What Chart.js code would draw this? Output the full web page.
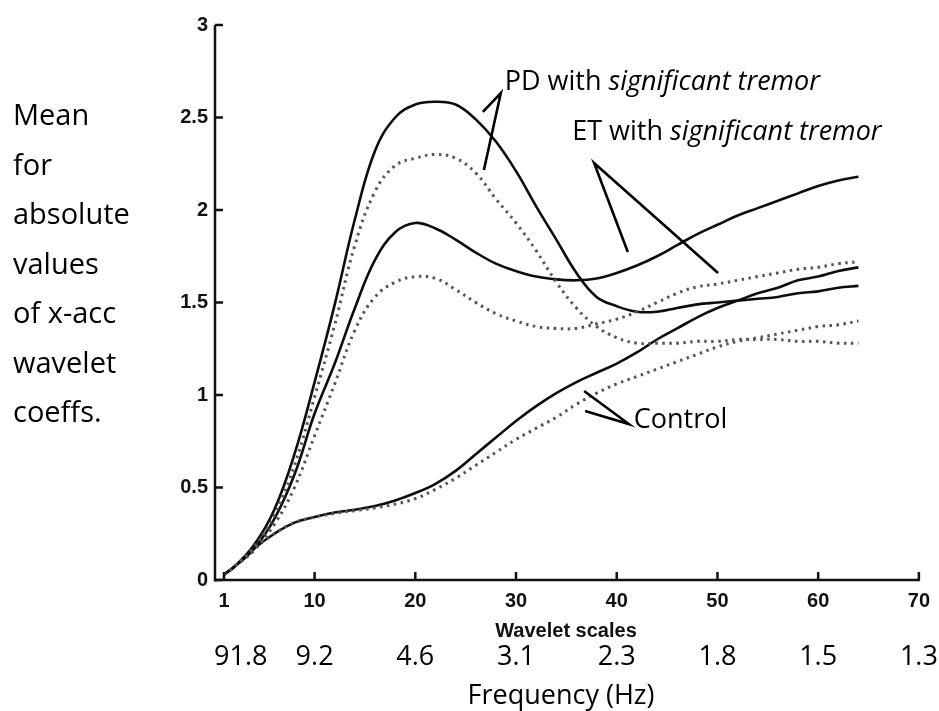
<!DOCTYPE html>
<html>
<head>
<meta charset="utf-8">
<script src="https://cdn.jsdelivr.net/npm/chart.js@4/dist/chart.umd.min.js"></script>
<style>
html,body{margin:0;padding:0;background:#fff;}
#wrap{width:939px;height:711px;position:relative;}
</style>
</head>
<body>
<div id="wrap"><canvas id="c"></canvas></div>
<script>
// ---- data ----
const waveletScales = [1,2,4,6,8,10,12,14,16,18,20,22,24,26,28,30,32,34,36,38,40,42,44,46,48,50,52,54,56,58,60,62,64];
const pdSolid      = [0.03,0.07,0.19,0.38,0.68,1.07,1.49,1.95,2.32,2.50,2.57,2.585,2.57,2.49,2.37,2.21,2.02,1.84,1.66,1.53,1.48,1.45,1.45,1.47,1.49,1.50,1.51,1.52,1.53,1.55,1.56,1.58,1.59];
const pdDotted     = [0.03,0.07,0.18,0.35,0.62,0.99,1.38,1.81,2.10,2.24,2.28,2.30,2.28,2.20,2.06,1.93,1.78,1.61,1.47,1.37,1.31,1.28,1.28,1.28,1.29,1.29,1.30,1.30,1.30,1.29,1.29,1.28,1.28];
const etSolid      = [0.03,0.07,0.17,0.33,0.57,0.90,1.17,1.47,1.73,1.88,1.93,1.90,1.84,1.77,1.71,1.67,1.64,1.625,1.62,1.63,1.66,1.70,1.75,1.81,1.87,1.92,1.97,2.01,2.05,2.09,2.13,2.16,2.18];
const etDotted     = [0.03,0.07,0.16,0.30,0.50,0.78,1.06,1.35,1.53,1.61,1.64,1.63,1.57,1.50,1.44,1.40,1.37,1.36,1.36,1.385,1.41,1.45,1.50,1.55,1.585,1.60,1.62,1.64,1.66,1.68,1.69,1.71,1.72];
const controlSolid = [0.03,0.07,0.17,0.25,0.31,0.34,0.365,0.38,0.40,0.43,0.47,0.52,0.59,0.68,0.77,0.86,0.94,1.01,1.07,1.12,1.17,1.23,1.30,1.36,1.42,1.47,1.51,1.55,1.58,1.62,1.64,1.67,1.69];
const controlDotted= [0.03,0.07,0.17,0.25,0.31,0.34,0.36,0.375,0.39,0.41,0.44,0.49,0.55,0.62,0.69,0.76,0.82,0.88,0.95,1.01,1.06,1.10,1.14,1.18,1.22,1.26,1.29,1.31,1.33,1.35,1.37,1.38,1.40];

const xTickValues = [1,10,20,30,40,50,60,70];
const freqLabels  = ['91.8','9.2','4.6','3.1','2.3','1.8','1.5','1.3'];
const yTickStep   = 0.5;
const yLabelLines = ['Mean','for','absolute','values','of x-acc','wavelet','coeffs.'];
const xTitle      = 'Wavelet scales';
const freqTitle   = 'Frequency (Hz)';

// annotation labels (text + pointer lines, given in data units)
const annotations = [
  {normal:'PD with ', italic:'significant tremor', at:[28.88,2.649],
   pointer:[[26.71,2.530],[28.49,2.632],[26.81,2.216]]},
  {normal:'ET with ', italic:'significant tremor', at:[35.58,2.378],
   pointer:[[41.10,1.773],[37.75,2.254],[50.06,1.659]]},
  {normal:'Control', italic:'', at:[41.69,0.822],
   pointer:[[36.76,1.022],[41.20,0.843],[36.86,0.914]]}
];

const toXY = arr => waveletScales.map((s,i)=>({x:s,y:arr[i]}));

function ds(label, arr, dotted){
  return {
    label, data: toXY(arr),
    borderColor: dotted ? '#555555' : '#0d0d0d',
    borderWidth: dotted ? 3 : 2.6,
    borderDash: dotted ? [2.5,4.5] : [],
    pointRadius: 0,
    tension: 0.4,
    fill: false
  };
}

const overlay = {
  id:'overlay',
  afterDraw(chart){
    const ctx = chart.ctx, xs = chart.scales.x, ys = chart.scales.y;
    const ca = chart.chartArea;
    ctx.save();
    // axes
    ctx.strokeStyle = '#111';
    ctx.lineWidth = 2.5;
    ctx.lineCap = 'butt';
    ctx.beginPath();
    ctx.moveTo(ca.left, ys.getPixelForValue(3));
    ctx.lineTo(ca.left, ca.bottom + 1.5);
    ctx.moveTo(ca.left, ca.bottom);
    ctx.lineTo(xs.getPixelForValue(70) + 1, ca.bottom);
    ctx.stroke();
    // inward ticks
    ctx.beginPath();
    ys.ticks.forEach(t=>{
      const py = ys.getPixelForValue(t.value);
      ctx.moveTo(ca.left, py); ctx.lineTo(ca.left + 8, py);
    });
    xTickValues.forEach(v=>{
      const px = xs.getPixelForValue(v);
      ctx.moveTo(px, ca.bottom); ctx.lineTo(px, ca.bottom - 8);
    });
    ctx.stroke();

    // y label, multi-line
    ctx.fillStyle = '#000';
    ctx.font = '29px "Open Sans"';
    ctx.textAlign = 'left';
    ctx.textBaseline = 'alphabetic';
    yLabelLines.forEach((line,i)=>{
      ctx.fillText(line, 13, 125 + i*49.5);
    });

    // x title
    ctx.font = 'bold 20px "Liberation Sans", Arial, sans-serif';
    ctx.textAlign = 'center';
    ctx.fillStyle = '#111';
    ctx.fillText(xTitle, 566, 637);

    // frequency labels
    ctx.font = '27px "Open Sans"';
    ctx.fillStyle = '#000';
    freqLabels.forEach((lab,i)=>{
      const w = ctx.measureText(lab).width;
      let px = xs.getPixelForValue(xTickValues[i]);
      px = Math.max(px, ca.left - 1 + w/2);
      ctx.fillText(lab, px, 665);
    });
    ctx.fillText(freqTitle, 561, 704);

    // annotations
    ctx.strokeStyle = '#000';
    ctx.lineWidth = 2.6;
    ctx.lineJoin = 'miter';
    annotations.forEach(a=>{
      ctx.beginPath();
      a.pointer.forEach((p,i)=>{
        const px = xs.getPixelForValue(p[0]), py = ys.getPixelForValue(p[1]);
        if(i===0) ctx.moveTo(px,py); else ctx.lineTo(px,py);
      });
      ctx.stroke();
      let tx = xs.getPixelForValue(a.at[0]);
      const ty = ys.getPixelForValue(a.at[1]);
      ctx.textAlign = 'left';
      ctx.font = '27px "Open Sans"';
      ctx.fillText(a.normal, tx, ty);
      tx += ctx.measureText(a.normal).width;
      if(a.italic){
        ctx.font = 'italic 27px "Open Sans"';
        ctx.fillText(a.italic, tx, ty);
      }
    });
    ctx.restore();
  }
};

new Chart(document.getElementById('c'), {
  type:'line',
  data:{
    datasets:[
      ds('PD dotted', pdDotted, true),
      ds('ET dotted', etDotted, true),
      ds('Control dotted', controlDotted, true),
      ds('PD solid', pdSolid, false),
      ds('ET solid', etSolid, false),
      ds('Control solid', controlSolid, false)
    ]
  },
  options:{
    responsive:true,
    maintainAspectRatio:false,
    animation:false,
    layout:{padding:{left:0, top:25, right:14.5, bottom:0}},
    plugins:{legend:{display:false}, tooltip:{enabled:false}},
    scales:{
      x:{
        type:'linear', min:0.11, max:70,
        grid:{display:false, drawTicks:false},
        border:{display:false},
        afterBuildTicks(scale){ scale.ticks = xTickValues.map(v=>({value:v})); },
        afterFit(scale){ scale.height = 131; },
        ticks:{
          autoSkip:false, maxRotation:0, padding:9, color:'#111',
          callback:v=>String(v),
          font:{family:'"Liberation Sans", Arial, sans-serif', size:20, weight:'bold'}
        }
      },
      y:{
        type:'linear', min:0, max:3,
        grid:{display:false, drawTicks:false},
        border:{display:false},
        afterFit(scale){ scale.width = 215; },
        ticks:{
          stepSize:yTickStep, padding:7, color:'#111',
          callback:v=>String(Math.round(v*10)/10),
          font:{family:'"Liberation Sans", Arial, sans-serif', size:20, weight:'bold'}
        }
      }
    }
  },
  plugins:[overlay]
});
</script>
</body>
</html>
